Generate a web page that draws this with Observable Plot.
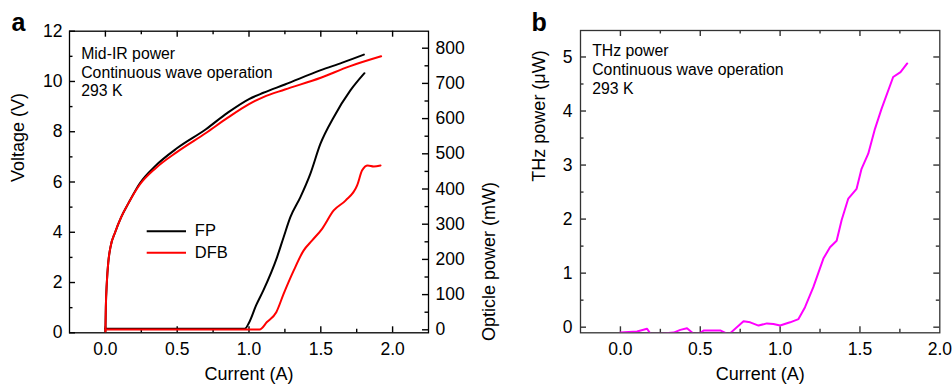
<!DOCTYPE html>
<html><head><meta charset="utf-8">
<script src="https://cdn.jsdelivr.net/npm/d3@7"></script>
<script src="https://cdn.jsdelivr.net/npm/@observablehq/plot@0.6"></script>
<style>
body{margin:0;background:#fff;}
#wrap{display:flex;width:952px;height:384px;}
#wrap svg{display:block;overflow:visible;max-width:none;}
</style></head><body><div id="wrap"></div>
<script>
// ---------- data ----------
// Panel a: voltage curves (current A -> voltage V)
const fpVoltI  = [0, 0.003, 0.01, 0.02, 0.035, 0.068, 0.11, 0.16, 0.24, 0.35, 0.5, 0.7, 0.85, 1.0, 1.1, 1.25, 1.5, 1.65, 1.8];
const fpVoltV  = [0.05, 1.0, 2.0, 2.8, 3.4, 4.0, 4.6, 5.15, 5.95, 6.65, 7.35, 8.1, 8.75, 9.3, 9.55, 9.88, 10.45, 10.75, 11.07];
const dfbVoltI = [0, 0.003, 0.01, 0.02, 0.035, 0.068, 0.11, 0.16, 0.24, 0.35, 0.5, 0.7, 0.85, 1.0, 1.1, 1.25, 1.5, 1.7, 1.92];
const dfbVoltV = [0.05, 1.0, 2.0, 2.8, 3.4, 4.0, 4.6, 5.15, 5.9, 6.55, 7.2, 7.95, 8.55, 9.1, 9.38, 9.68, 10.15, 10.6, 11.0];
// Panel a: optical power curves (current A -> power mW)
const fpPowI  = [0, 0.97, 1.0, 1.05, 1.1, 1.195, 1.241, 1.288, 1.358, 1.427, 1.497, 1.59, 1.706, 1.804];
const fpPowP  = [3, 3, 20, 70, 112, 206, 263, 320, 377, 443, 528, 604, 680, 729];
const dfbPowI = [0, 1.074, 1.125, 1.19, 1.241, 1.311, 1.38, 1.44, 1.509, 1.59, 1.672, 1.753, 1.788, 1.827, 1.869, 1.916];
const dfbPowP = [1, 1, 22, 50, 102, 168, 225, 254, 287, 339, 367, 410, 453, 467, 464, 467];
// Panel b: THz power (current A -> power uW)
const thzI = [0, 0.104, 0.167, 0.1875, 0.25, 0.333, 0.375, 0.417, 0.458, 0.5, 0.521, 0.625, 0.667, 0.6875, 0.771, 0.8125, 0.865, 0.917, 0.958, 1.0, 1.0625, 1.115, 1.156, 1.208, 1.271, 1.3125, 1.354, 1.385, 1.427, 1.479, 1.51, 1.552, 1.594, 1.635, 1.708, 1.754, 1.796];
const thzP = [-0.1, -0.08, -0.03, -0.12, -0.12, -0.1, -0.05, -0.02, -0.12, -0.11, -0.06, -0.06, -0.12, -0.11, 0.11, 0.09, 0.03, 0.07, 0.06, 0.03, 0.09, 0.15, 0.37, 0.74, 1.27, 1.48, 1.6, 1.98, 2.38, 2.56, 2.93, 3.21, 3.67, 4.04, 4.63, 4.72, 4.88];
// Ticks
const xTicks = [0, 0.5, 1.0, 1.5, 2.0];
const xMinor = [0.25, 0.75, 1.25, 1.75];
const vTicks = [0, 2, 4, 6, 8, 10, 12];
const vMinor = [1, 3, 5, 7, 9, 11];
const pTicks = [0, 100, 200, 300, 400, 500, 600, 700, 800];
const pMinor = [50, 150, 250, 350, 450, 550, 650, 750];
const thzTicks = [0, 1, 2, 3, 4, 5];
const thzMinor = [0.5, 1.5, 2.5, 3.5, 4.5];
// Legend / texts
const legendNames = ["FP", "DFB"];
const legendColors = ["#000000", "#ff0000"];
const noteA = "Mid-IR power\nContinuous wave operation\n293 K";
const noteB = "THz power\nContinuous wave operation\n293 K";

// ---------- layout ----------
const FONT = "'Liberation Sans', Arial, Helvetica, sans-serif";
const H = 384;
const A = {w: 500, top: 30.7, right: 72, bottom: 51.7, left: 69, x: [-0.25, 2.25], y: [0, 12], p: [-8.5, 848.3]};
const B = {w: 452, top: 30, right: 12.7, bottom: 51.7, left: 80, x: [-0.25, 2.0], y: [-0.104, 5.49]};
const MAJ = 6, MIN = 3.5, TW = 1.4;

const toV = p => (p - A.p[0]) / (A.p[1] - A.p[0]) * (A.y[1] - A.y[0]) + A.y[0];
const fromV = v => (v - A.y[0]) / (A.y[1] - A.y[0]) * (A.p[1] - A.p[0]) + A.p[0];
const pairs = (xs, ys, f = d => d) => xs.map((x, i) => [x, f(ys[i])]);

// inward ticks drawn as short rules; lengths converted from pixels to data units
function tickMarks(P, xt, xm, yt, ym, stroke, rightT, rightM) {
  const fw = P.w - P.left - P.right, fh = H - P.top - P.bottom;
  const ux = (P.x[1] - P.x[0]) / fw, uy = (P.y[1] - P.y[0]) / fh;
  const o = {stroke, strokeWidth: TW};
  const [x0, x1] = P.x, [y0, y1] = P.y;
  const m = [];
  for (const [data, len] of [[xt, MAJ], [xm, MIN]]) {
    m.push(Plot.ruleX(data, {x: d => d, y1: () => y0, y2: () => y0 + len * uy, ...o}));
    m.push(Plot.ruleX(data, {x: d => d, y1: () => y1, y2: () => y1 - len * uy, ...o}));
  }
  for (const [data, len] of [[yt, MAJ], [ym, MIN]]) {
    m.push(Plot.ruleY(data, {y: d => d, x1: () => x0, x2: () => x0 + len * ux, ...o}));
  }
  for (const [data, len] of [[rightT, MAJ], [rightM, MIN]]) {
    m.push(Plot.ruleY(data, {y: d => d, x1: () => x1, x2: () => x1 - len * ux, ...o}));
  }
  return m;
}

// ---------- panel a ----------
const sxA = d3.scaleLinear(A.x, [A.left, A.w - A.right]);
const syA = d3.scaleLinear(A.y, [H - A.bottom, A.top]);
const legRows = [230.7, 252.3];
const legendData = legendNames.map((n, i) => ({n, c: legendColors[i], y: syA.invert(legRows[i]),
  x1: sxA.invert(146.7), x2: sxA.invert(186), xt: sxA.invert(194.3)}));
const lineOpts = {strokeWidth: 2, strokeLinejoin: "round", curve: "monotone-x"};

const plotA = Plot.plot({
  width: A.w, height: H,
  marginTop: A.top, marginRight: A.right, marginBottom: A.bottom, marginLeft: A.left,
  x: {domain: A.x}, y: {domain: A.y},
  style: {fontFamily: FONT, fontSize: "17.5px", color: "#000", background: "transparent", overflow: "visible"},
  marks: [
    ...tickMarks(A, xTicks, xMinor, vTicks, vMinor, "#000", pTicks.map(toV), pMinor.map(toV)),
    Plot.frame({stroke: "#000", strokeWidth: 1.3}),
    Plot.axisX(xTicks, {tickSize: 0, tickPadding: 10, tickFormat: d3.format(".1f"), label: null}),
    Plot.axisY(vTicks, {tickSize: 0, tickPadding: 7, tickFormat: d3.format("d"), label: null}),
    Plot.axisY(pTicks.map(toV), {anchor: "right", tickSize: 0, tickPadding: 7, label: null,
      tickFormat: v => String(Math.round(fromV(v)))}),
    Plot.line(pairs(fpVoltI, fpVoltV), {stroke: "#000", ...lineOpts}),
    Plot.line(pairs(fpPowI, fpPowP, toV), {stroke: "#000", ...lineOpts}),
    Plot.line(pairs(dfbVoltI, dfbVoltV), {stroke: "#ff0000", ...lineOpts}),
    Plot.line(pairs(dfbPowI, dfbPowP, toV), {stroke: "#ff0000", ...lineOpts}),
    Plot.ruleY(legendData, {y: "y", x1: "x1", x2: "x2", stroke: "c", strokeWidth: 2}),
    Plot.text(legendData, {x: "xt", y: "y", text: "n", textAnchor: "start", fontSize: 16.5, fill: "#000"}),
    Plot.text([noteA], {frameAnchor: "top-left", dx: 11.7, dy: 14.3, textAnchor: "start", lineAnchor: "top", lineHeight: 1.19, fontSize: 15.8, fill: "#000"}),
    Plot.text(["a"], {frameAnchor: "top-left", dx: -58, dy: -0.5, textAnchor: "start", lineAnchor: "bottom", fontSize: 25, fontWeight: "bold", fill: "#000"}),
    Plot.text(["Voltage (V)"], {frameAnchor: "left", dx: -51, rotate: -90, fontSize: 18, fill: "#000"}),
    Plot.text(["Opticle power (mW)"], {frameAnchor: "right", dx: 61, rotate: -90, fontSize: 18, fill: "#000"}),
    Plot.text(["Current (A)"], {frameAnchor: "bottom", dy: 34, lineAnchor: "top", fontSize: 18, fill: "#000"})
  ]
});

// ---------- panel b ----------
const plotB = Plot.plot({
  width: B.w, height: H,
  marginTop: B.top, marginRight: B.right, marginBottom: B.bottom, marginLeft: B.left,
  x: {domain: B.x}, y: {domain: B.y},
  style: {fontFamily: FONT, fontSize: "17.5px", color: "#000", background: "transparent", overflow: "visible"},
  marks: [
    ...tickMarks(B, xTicks.filter(d => d < B.x[1]), xMinor, thzTicks, thzMinor, "#333", thzTicks, thzMinor),
    Plot.frame({stroke: "#333", strokeWidth: 1.3}),
    Plot.axisX(xTicks, {tickSize: 0, tickPadding: 10, tickFormat: d3.format(".1f"), label: null}),
    Plot.axisY(thzTicks, {tickSize: 0, tickPadding: 8, tickFormat: d3.format("d"), label: null}),
    Plot.line(pairs(thzI, thzP), {stroke: "#ff00ff", strokeWidth: 2, strokeLinejoin: "round", clip: true}),
    Plot.text([noteB], {frameAnchor: "top-left", dx: 11.7, dy: 11.5, textAnchor: "start", lineAnchor: "top", lineHeight: 1.21, fontSize: 15.8, fill: "#000"}),
    Plot.text(["b"], {frameAnchor: "top-left", dx: -49, dy: 0.5, textAnchor: "start", lineAnchor: "bottom", fontSize: 25, fontWeight: "bold", fill: "#000"}),
    Plot.text(["THz power (\u03bcW)"], {frameAnchor: "left", dx: -41, rotate: -90, fontSize: 18, fill: "#000"}),
    Plot.text(["Current (A)"], {frameAnchor: "bottom", dy: 34, lineAnchor: "top", fontSize: 18, fill: "#000"})
  ]
});

const wrap = document.getElementById("wrap");
wrap.appendChild(plotA);
wrap.appendChild(plotB);
</script>
</body></html>
